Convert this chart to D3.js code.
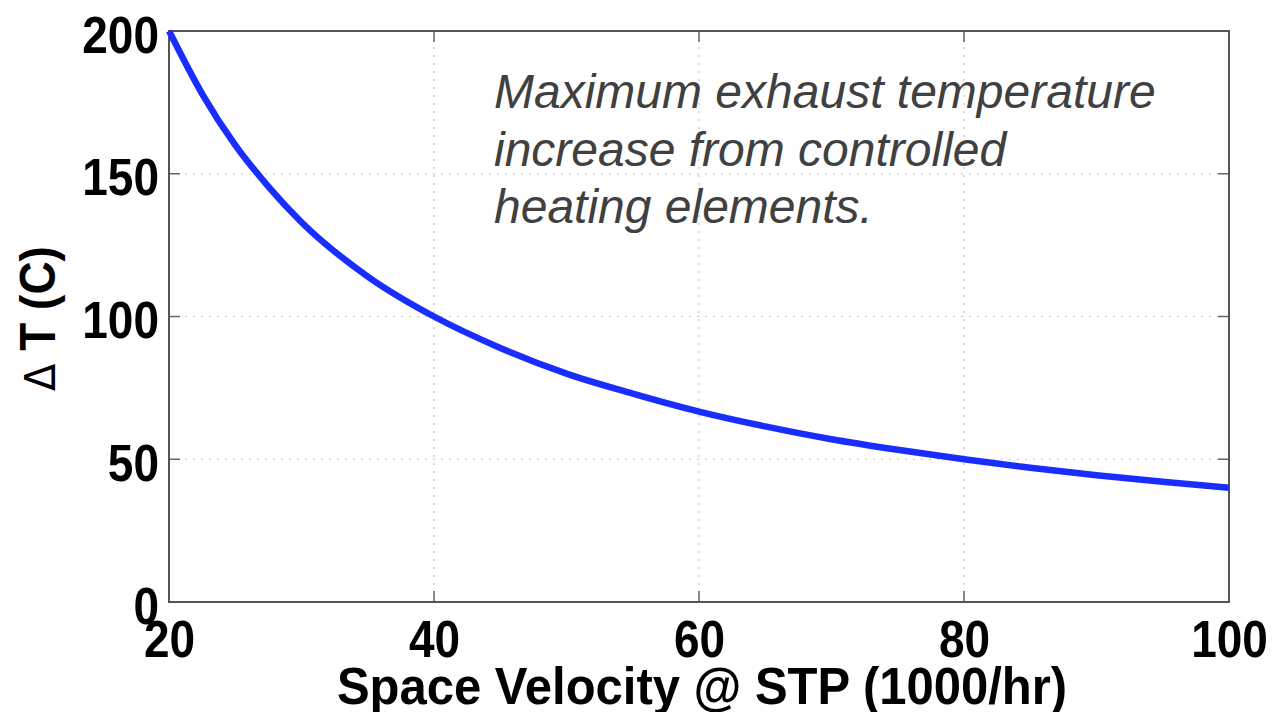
<!DOCTYPE html>
<html>
<head>
<meta charset="utf-8">
<script src="https://cdn.jsdelivr.net/npm/d3@7"></script>
<style>
html,body{margin:0;padding:0;background:#fff;}
svg{display:block;}
text{font-family:"Liberation Sans",Arial,Helvetica,sans-serif;}
</style>
</head>
<body>
<svg id="chart" width="1277" height="712"></svg>
<script>
// Data
const spaceVelocity = [20, 22.5, 25, 27.5, 30, 35, 40, 45, 50, 55, 60, 65, 70, 75, 80, 85, 90, 95, 100];
const deltaT = [200, 178, 160, 145.5, 133, 114, 100, 89, 80, 73, 66.7, 61.5, 57, 53.3, 50, 47, 44.4, 42.1, 40];
const xTicks = [20, 40, 60, 80, 100];
const yTicks = [0, 50, 100, 150, 200];
const xTitle = "Space Velocity @ STP (1000/hr)";
const yTitleSymbol = "\u0394";
const yTitleRest = " T (C)";
const annotation = ["Maximum exhaust temperature", "increase from controlled", "heating elements."];

const svg = d3.select("#chart");
const plot = {left: 169, right: 1229, top: 31, bottom: 602};

const x = d3.scaleLinear().domain([20, 100]).range([plot.left, plot.right]);
const y = d3.scaleLinear().domain([0, 200]).range([plot.bottom, plot.top]);

// grid
const grid = svg.append("g");
grid.selectAll("line.gx").data(xTicks.slice(1, -1)).join("line")
  .attr("x1", d => x(d)).attr("x2", d => x(d))
  .attr("y1", plot.top).attr("y2", plot.bottom)
  .attr("stroke", "#c4c4c4").attr("stroke-width", 1.2).attr("stroke-dasharray", "2,6");
grid.selectAll("line.gy").data(yTicks.slice(1, -1)).join("line")
  .attr("y1", d => y(d)).attr("y2", d => y(d))
  .attr("x1", plot.left).attr("x2", plot.right)
  .attr("stroke", "#c4c4c4").attr("stroke-width", 1.2).attr("stroke-dasharray", "2,6");

// inner ticks
const tl = 11;
const tk = svg.append("g").attr("stroke", "#666").attr("stroke-width", 1.5);
xTicks.forEach(d => {
  tk.append("line").attr("x1", x(d)).attr("x2", x(d)).attr("y1", plot.bottom).attr("y2", plot.bottom - tl);
  tk.append("line").attr("x1", x(d)).attr("x2", x(d)).attr("y1", plot.top).attr("y2", plot.top + tl);
});
yTicks.forEach(d => {
  tk.append("line").attr("y1", y(d)).attr("y2", y(d)).attr("x1", plot.left).attr("x2", plot.left + tl);
  tk.append("line").attr("y1", y(d)).attr("y2", y(d)).attr("x1", plot.right).attr("x2", plot.right - tl);
});

// frame
svg.append("rect")
  .attr("x", plot.left).attr("y", plot.top)
  .attr("width", plot.right - plot.left).attr("height", plot.bottom - plot.top)
  .attr("fill", "none").attr("stroke", "#555").attr("stroke-width", 2);

// curve
const pts = spaceVelocity.map((v, i) => [v, deltaT[i]]);
svg.append("path")
  .datum(pts)
  .attr("fill", "none")
  .attr("stroke", "#1a2dff")
  .attr("stroke-width", 6.5)
  .attr("stroke-linejoin", "round")
  .attr("d", d3.line().x(d => x(d[0])).y(d => y(d[1])).curve(d3.curveMonotoneX));

// axes (labels only)
const sy = 1.12;
const xa = svg.append("g").attr("transform", `translate(0,${plot.bottom})`)
  .call(d3.axisBottom(x).tickValues(xTicks).tickSize(0).tickFormat(d3.format("d")));
xa.select(".domain").remove();
xa.selectAll("text")
  .attr("dy", null).attr("y", 55 / sy)
  .attr("transform", `scale(1,${sy})`)
  .attr("fill", "#000")
  .style("font-size", "46px").style("font-weight", "bold")
  .style("font-family", "'Liberation Sans',Arial,sans-serif");

const ya = svg.append("g").attr("transform", `translate(${plot.left},0)`)
  .call(d3.axisLeft(y).tickValues(yTicks).tickSize(0).tickFormat(d3.format("d")));
ya.select(".domain").remove();
ya.selectAll("text")
  .attr("dy", null).attr("x", -10).attr("y", 21 / sy)
  .attr("transform", `scale(1,${sy})`)
  .attr("fill", "#000")
  .style("font-size", "46px").style("font-weight", "bold")
  .style("font-family", "'Liberation Sans',Arial,sans-serif");

// axis titles
svg.append("text")
  .attr("transform", `translate(${(plot.left + plot.right) / 2 + 3},704) scale(1,1.05)`)
  .attr("text-anchor", "middle")
  .attr("fill", "#000")
  .style("font-size", "49px").style("font-weight", "bold")
  .text(xTitle);

const yt = svg.append("text")
  .attr("transform", `translate(55,${(plot.top + plot.bottom) / 2 + 2}) rotate(-90) scale(1,1.08)`)
  .attr("text-anchor", "middle")
  .attr("fill", "#000")
  .style("font-size", "46px").style("font-weight", "bold");
yt.append("tspan").style("font-weight", "normal").style("font-family", "'DejaVu Sans',sans-serif").style("font-size", "40px").text(yTitleSymbol);
yt.append("tspan").text(yTitleRest);

// annotation
svg.append("g").selectAll("text").data(annotation).join("text")
  .attr("x", 494).attr("y", (d, i) => 108 + i * 57.5)
  .attr("fill", "#404040")
  .style("font-size", "48px").style("font-style", "italic")
  .text(d => d);
</script>
</body>
</html>
